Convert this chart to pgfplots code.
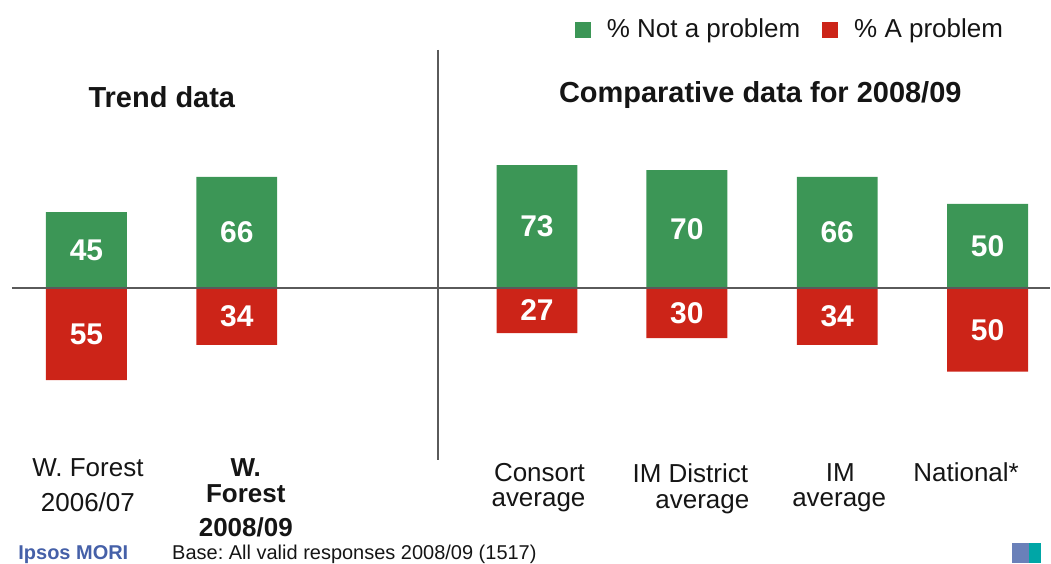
\documentclass[border=0pt]{standalone}
\usepackage{pgfplots}
\pgfplotsset{compat=1.18}
\usepackage{fontspec}
\setmainfont{Liberation Sans}
\definecolor{gr}{HTML}{3C9656}
\definecolor{rd}{HTML}{CC2418}
\definecolor{ln}{HTML}{5A5A5A}
\definecolor{txt}{HTML}{151515}
\definecolor{ipsos}{HTML}{4560A8}
\newcommand{\fs}[1]{\fontsize{#1}{#1}\selectfont}
\tikzset{vlab/.style={white, font=\bfseries\fs{15}}}
\frenchspacing
\begin{document}
\begin{tikzpicture}
\begin{axis}[
  scale only axis, width=525.5pt, height=282pt,
  xmin=0, xmax=1051, ymin=-164.29, ymax=171.43,
  axis lines=none, clip=false,
  ybar, bar shift=0pt, bar width=81,
  legend style={at={(axis cs:575,153.6)}, anchor=west, draw=none, fill=none,
    legend columns=2, font=\fs{13}\color{txt},
    /tikz/every even column/.append style={column sep=9pt},
    inner sep=0pt},
  legend image code/.code={\fill[#1] (0pt,-4pt) rectangle (8pt,4pt);},
]
\path (axis cs:0,-164.29) rectangle (axis cs:1051,171.43);
\addplot[fill=gr, draw=none] coordinates {(86.5,45) (237,66) (537.5,73) (687.5,70) (838,66) (988.5,50)};
\addplot[fill=rd, draw=none] coordinates {(86.5,-55) (237,-34) (537.5,-27) (687.5,-30) (838,-34) (988.5,-50)};
\legend{\hspace{6pt}\% Not a problem, \hspace{6pt}\% A problem}
% lines
\draw[ln, line width=1pt] (axis cs:12,0) -- (axis cs:1051,0);
\draw[ln, line width=1pt] (axis cs:438,141.7) -- (axis cs:438,-102.4);
% values
\node[vlab] at (axis cs:86.5,22.5) {45};
\node[vlab] at (axis cs:237,33) {66};
\node[vlab] at (axis cs:537.5,36.5) {73};
\node[vlab] at (axis cs:687.5,35) {70};
\node[vlab] at (axis cs:838,33) {66};
\node[vlab] at (axis cs:988.5,25) {50};
\node[vlab] at (axis cs:86.5,-27.5) {55};
\node[vlab] at (axis cs:237,-17) {34};
\node[vlab] at (axis cs:537.5,-13.5) {27};
\node[vlab] at (axis cs:687.5,-15) {30};
\node[vlab] at (axis cs:838,-17) {34};
\node[vlab] at (axis cs:988.5,-25) {50};
% titles
\node[txt, font=\bfseries\fs{14.5}] at (axis cs:162,113.7) {Trend data};
\node[txt, font=\bfseries\fs{14.5}] at (axis cs:761,114.9) {Comparative data for 2008/09};
% category labels
\node[txt, font=\fs{13}, anchor=base] at (axis cs:88,-112.5) {W. Forest};
\node[txt, font=\fs{13}, anchor=base] at (axis cs:88,-133.3) {2006/07};
\node[txt, font=\bfseries\fs{13}, anchor=base] at (axis cs:246,-112.5) {W.};
\node[txt, font=\bfseries\fs{13}, anchor=base] at (axis cs:246,-128.0) {Forest};
\node[txt, font=\bfseries\fs{13}, anchor=base] at (axis cs:246,-148.2) {2008/09};
\node[txt, font=\fs{13}, anchor=base] at (axis cs:540,-115.5) {Consort};
\node[txt, font=\fs{13}, anchor=base] at (axis cs:539,-130.6) {average};
\node[txt, font=\fs{13}, anchor=base] at (axis cs:691,-116.1) {IM District};
\node[txt, font=\fs{13}, anchor=base] at (axis cs:703,-131.8) {average};
\node[txt, font=\fs{13}, anchor=base] at (axis cs:841,-115.5) {IM};
\node[txt, font=\fs{13}, anchor=base] at (axis cs:840,-130.6) {average};
\node[txt, font=\fs{13}, anchor=base] at (axis cs:967,-115.5) {National*};
% footer
\node[ipsos, font=\bfseries\fs{10}, anchor=base west, inner sep=0pt] at (axis cs:18,-162.0) {Ipsos MORI};
\node[txt, font=\fs{10}, anchor=base west, inner sep=0pt] at (axis cs:172,-162.0) {Base: All valid responses 2008/09 (1517)};
\fill[ipsos!80] (axis cs:1013,-152.0) rectangle (axis cs:1030,-164.29);
\fill[teal!70!cyan] (axis cs:1030,-152.0) rectangle (axis cs:1042,-164.29);
\end{axis}
\end{tikzpicture}
\end{document}
